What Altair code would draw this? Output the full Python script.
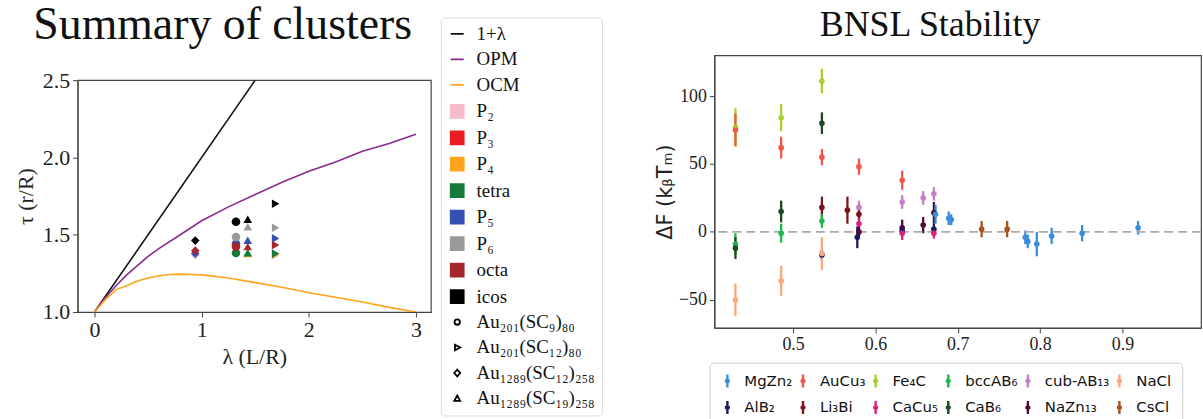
import altair as alt
import pandas as pd

# ---------------- Left panel: Summary of clusters ----------------
line_lam = [0.0, 1.5]
line_tau = [1.0, 2.5]

opm_lam = [0.0, 0.1, 0.2, 0.3, 0.4, 0.5, 0.6, 0.8, 1.0, 1.25, 1.5, 1.75, 2.0, 2.25, 2.5, 2.75, 3.0]
opm_tau = [1.0, 1.09, 1.17, 1.24, 1.30, 1.36, 1.41, 1.50, 1.59, 1.68, 1.76, 1.84, 1.91, 1.97, 2.04, 2.09, 2.15]

ocm_lam = [0.0, 0.05, 0.1, 0.15, 0.2, 0.3, 0.4, 0.5, 0.6, 0.7, 0.8, 0.9, 1.0, 1.25, 1.5, 1.75, 2.0, 2.25, 2.5, 2.75, 3.0]
ocm_tau = [1.0, 1.04, 1.08, 1.11, 1.145, 1.17, 1.20, 1.22, 1.235, 1.243, 1.245, 1.243, 1.24, 1.22, 1.19, 1.16, 1.125, 1.095, 1.065, 1.03, 1.0]

series_keys = ["1+λ", "OPM", "OCM", "P₂", "P₃", "P₄", "tetra", "P₅", "P₆", "octa", "icos"]
series_colors = ["#111111", "#8b2a8f", "#ffa31a", "#f7bccb", "#ec1c24", "#ffa31a", "#177a3a",
                 "#3451b2", "#9a9a9a", "#a6262a", "#000000"]

lig_keys = ["Au₂₀₁(SC₉)₈₀", "Au₂₀₁(SC₁₂)₈₀", "Au₁₂₈₉(SC₁₂)₂₅₈", "Au₁₂₈₉(SC₁₉)₂₅₈"]
lig_shapes = ["circle", "triangle-right", "diamond", "triangle-up"]

cl_lig = (["Au₁₂₈₉(SC₁₂)₂₅₈"] * 4 + ["Au₂₀₁(SC₉)₈₀"] * 5 + ["Au₁₂₈₉(SC₁₉)₂₅₈"] * 6
          + ["Au₂₀₁(SC₁₂)₈₀"] * 7)
cl_type = (["P₂", "P₅", "octa", "icos"]
           + ["tetra", "P₅", "P₆", "octa", "icos"]
           + ["P₄", "tetra", "P₅", "P₆", "octa", "icos"]
           + ["P₂", "P₄", "tetra", "P₅", "P₆", "octa", "icos"])
cl_lam = ([0.94] * 4 + [1.32] * 5 + [1.43] * 6 + [1.69] * 7)
cl_tau = ([1.368, 1.378, 1.397, 1.462]
          + [1.382, 1.442, 1.485, 1.423, 1.584]
          + [1.378, 1.384, 1.464, 1.552, 1.423, 1.60]
          + [1.366, 1.372, 1.378, 1.476, 1.545, 1.433, 1.70])

legend_keys = series_keys + lig_keys
legend_shapes = (["stroke"] * 3 + ["square"] * 8 + [
    "M0.42,0A0.42,0.42,0,1,1,-0.42,0A0.42,0.42,0,1,1,0.42,0Z",
    "M-0.34,-0.42L0.46,0L-0.34,0.42Z",
    "M0,-0.52L0.46,0L0,0.52L-0.46,0Z",
    "M0,-0.46L0.46,0.38L-0.46,0.38Z"])
legend_fill = ["transparent"] * 3 + series_colors[3:] + ["transparent"] * 4
legend_stroke = series_colors + ["#000000"] * 4

curves = pd.DataFrame({
    "lam": line_lam + opm_lam + ocm_lam,
    "tau": line_tau + opm_tau + ocm_tau,
    "series": ["1+λ"] * len(line_lam) + ["OPM"] * len(opm_lam) + ["OCM"] * len(ocm_lam),
    "ord": list(range(len(line_lam))) + list(range(len(opm_lam))) + list(range(len(ocm_lam))),
})
clusters = pd.DataFrame({"lam": cl_lam, "tau": cl_tau, "type": cl_type, "lig": cl_lig})
clusters["z"] = [series_keys.index(t) for t in cl_type]
legend_df = pd.DataFrame({"key": legend_keys})

SERIF = "Liberation Serif"
SANS = "DejaVu Sans"

colscale = alt.Scale(domain=series_keys, range=series_colors)
xL = alt.X("lam:Q", scale=alt.Scale(domain=[-0.158, 3.139], nice=False, zero=False),
           axis=alt.Axis(values=[0, 1, 2, 3], format="d", title="λ (L/R)"))
yL = alt.Y("tau:Q", scale=alt.Scale(domain=[1.0, 2.5], nice=False, zero=False),
           axis=alt.Axis(values=[1.0, 1.5, 2.0, 2.5], format=".1f", title="τ (r/R)",
                         titlePadding=5))

lines = alt.Chart(curves).mark_line(strokeWidth=1.6, clip=True).encode(
    x=xL, y=yL,
    color=alt.Color("series:N", scale=colscale, legend=None),
    detail="series:N",
    order="ord:Q",
)

pt_layers = []
for lk, sh in zip(lig_keys, lig_shapes):
    pt_layers.append(
        alt.Chart(clusters).transform_filter(alt.datum.lig == lk)
        .mark_point(filled=True, size=75, opacity=1, shape=sh)
        .encode(x=xL, y=yL,
                color=alt.Color("type:N", scale=colscale, legend=None),
                order="z:Q")
    )

LEG = alt.Legend(
    title=None,
    orient="none", legendX=365, legendY=-63,
    labelFont=SERIF, labelFontSize=19, labelColor="#111",
    symbolSize=169, symbolStrokeWidth=1.8, symbolOpacity=1,
    rowPadding=5.6, labelOffset=10, padding=7,
    strokeColor="#dddddd", cornerRadius=4, fillColor="white",
    labelLimit=300,
)
leg_layer = alt.Chart(legend_df).mark_point(opacity=0).encode(
    fill=alt.Fill("key:N", scale=alt.Scale(domain=legend_keys, range=legend_fill), legend=LEG),
    stroke=alt.Stroke("key:N", scale=alt.Scale(domain=legend_keys, range=legend_stroke), legend=LEG),
    shape=alt.Shape("key:N", scale=alt.Scale(domain=legend_keys, range=legend_shapes), legend=LEG),
)

left = alt.layer(lines, *pt_layers, leg_layer).properties(
    width=355, height=233,
    title=alt.TitleParams("Summary of clusters", font=SERIF, fontSize=46, fontWeight="normal",
                          anchor="start", dx=19, offset=0, dy=32, color="#111"),
)

# ---------------- Right panel: BNSL Stability ----------------
st_keys = ["MgZn₂", "AuCu₃", "Fe₄C", "bccAB₆", "cub-AB₁₃", "NaCl",
           "AlB₂", "Li₃Bi", "CaCu₅", "CaB₆", "NaZn₁₃", "CsCl"]
st_colors = ["#3a8dd8", "#f4574a", "#a9d02c", "#1fb552", "#c57fc6", "#fba878",
             "#1c1c5e", "#7c1518", "#d7247d", "#1b4a22", "#4d0b3e", "#a8521e"]

bn_struct = ["Fe₄C", "AuCu₃", "bccAB₆", "CaB₆", "NaCl",
             "Fe₄C", "AuCu₃", "CaB₆", "bccAB₆", "NaCl",
             "Fe₄C", "CaB₆", "AuCu₃", "Li₃Bi", "bccAB₆", "AlB₂", "NaCl",
             "Li₃Bi",
             "AuCu₃", "cub-AB₁₃", "Li₃Bi", "CaCu₅", "AlB₂", "NaZn₁₃",
             "AuCu₃", "cub-AB₁₃", "NaZn₁₃", "AlB₂", "CaCu₅",
             "cub-AB₁₃", "NaZn₁₃",
             "cub-AB₁₃", "NaZn₁₃", "AlB₂", "CaCu₅", "MgZn₂",
             "MgZn₂", "MgZn₂",
             "CsCl", "CsCl",
             "MgZn₂", "MgZn₂", "MgZn₂", "MgZn₂", "MgZn₂", "MgZn₂"]
bn_x = [0.430, 0.430, 0.430, 0.430, 0.430,
        0.4855, 0.4855, 0.4855, 0.4855, 0.4855,
        0.535, 0.535, 0.535, 0.535, 0.535, 0.535, 0.535,
        0.566,
        0.580, 0.580, 0.580, 0.580, 0.578, 0.580,
        0.6325, 0.6325, 0.6325, 0.6325, 0.6325,
        0.658, 0.658,
        0.671, 0.671, 0.671, 0.671, 0.673,
        0.689, 0.692,
        0.729, 0.760,
        0.782, 0.785, 0.796, 0.814, 0.851, 0.919]
bn_y = [77, 75, -9, -12, -50,
        84, 62, 15, -1, -36,
        111, 80, 55, 18, 8, -17, -16,
        16,
        48, 18, 13, 6, -4, 0,
        38, 22, 3, 1, -1,
        25, 5,
        28, 14, 2, -1, 13,
        10, 9,
        2, 2,
        -4, -7, -9, -3, -1, 3]
bn_err = [14, 12, 8, 8, 12,
          10, 8, 8, 7, 11,
          9, 8, 6, 8, 5, 4, 12,
          10,
          6, 5, 4, 4, 8, 4,
          7, 5, 6, 4, 5,
          5, 6,
          5, 8, 4, 4, 7,
          5, 4,
          6, 6,
          5, 5, 9, 6, 6, 5]

bn = pd.DataFrame({"x": bn_x, "y": bn_y, "err": bn_err, "structure": bn_struct})
bn["lo"] = bn["y"] - bn["err"]
bn["hi"] = bn["y"] + bn["err"]
zero_df = pd.DataFrame({"y0": [0]})

xR = alt.X("x:Q", scale=alt.Scale(domain=[0.4045, 0.9954], nice=False, zero=False),
           axis=alt.Axis(values=[0.5, 0.6, 0.7, 0.8, 0.9], format=".1f", title=None,
                         labelFontSize=18))
yScaleR = alt.Scale(domain=[-70.7, 130], nice=False, zero=False)
yAxisR = alt.Axis(values=[-50, 0, 50, 100], format="d", title="ΔF (kᵦTₘ)",
                  titleFont=SANS, titleFontSize=21, titleFontWeight="normal", labelFontSize=18,
                  titlePadding=3)

ERRSYM = "M0,-1L0,1M0.22,0A0.22,0.22,0,1,1,-0.22,0A0.22,0.22,0,1,1,0.22,0Z"
LEGR = alt.Legend(
    title=" ", titleOrient="bottom", titleFontSize=2, titlePadding=9.4,
    orient="none", legendX=-5, legendY=309, columns=6, direction="horizontal",
    labelFont=SANS, labelFontSize=15, labelColor="#111",
    symbolType=ERRSYM, symbolSize=169, symbolStrokeWidth=2.4, symbolOpacity=1,
    rowPadding=3, columnPadding=2, labelOffset=9, padding=10,
    strokeColor="#cccccc", cornerRadius=4, fillColor="white",
)
rcol = alt.Color("structure:N", scale=alt.Scale(domain=st_keys, range=st_colors), legend=LEGR)

bars = alt.Chart(bn).mark_rule(strokeWidth=2.3).encode(
    x=xR, y=alt.Y("lo:Q", scale=yScaleR, axis=yAxisR), y2="hi:Q", color=rcol)
zero_line = alt.Chart(zero_df).mark_rule(strokeDash=[9, 5], color="#aaaaaa", strokeWidth=1.6).encode(
    y=alt.Y("y0:Q", scale=yScaleR))
dots = alt.Chart(bn).mark_circle(size=32, opacity=1).encode(
    x=xR, y=alt.Y("y:Q", scale=yScaleR), color=rcol)

right = alt.layer(bars, zero_line, dots).properties(
    width=489, height=274,
    title=alt.TitleParams("BNSL Stability", font=SERIF, fontSize=36, fontWeight="normal",
                          anchor="start", dx=166, offset=11, color="#111"),
)

chart = alt.concat(left, right, columns=2, spacing=50).resolve_scale(
    color="independent", fill="independent", stroke="independent", shape="independent"
).properties(
    center=True,
    padding={"left": 13, "top": 0, "right": 0, "bottom": 0}
).configure_view(stroke="#444444", strokeWidth=1.2).configure_axis(
    grid=False, domainColor="#444444", tickColor="#444444", tickSize=5,
    labelColor="#222222", titleColor="#222222",
    labelFont=SERIF, labelFontSize=22, titleFont=SERIF, titleFontSize=22,
    titleFontWeight="normal",
).configure_axisX(labelPadding=3, titlePadding=6).configure_axisY(labelPadding=3)

chart.save("out.html", embed_options={"renderer": "svg", "actions": False})
